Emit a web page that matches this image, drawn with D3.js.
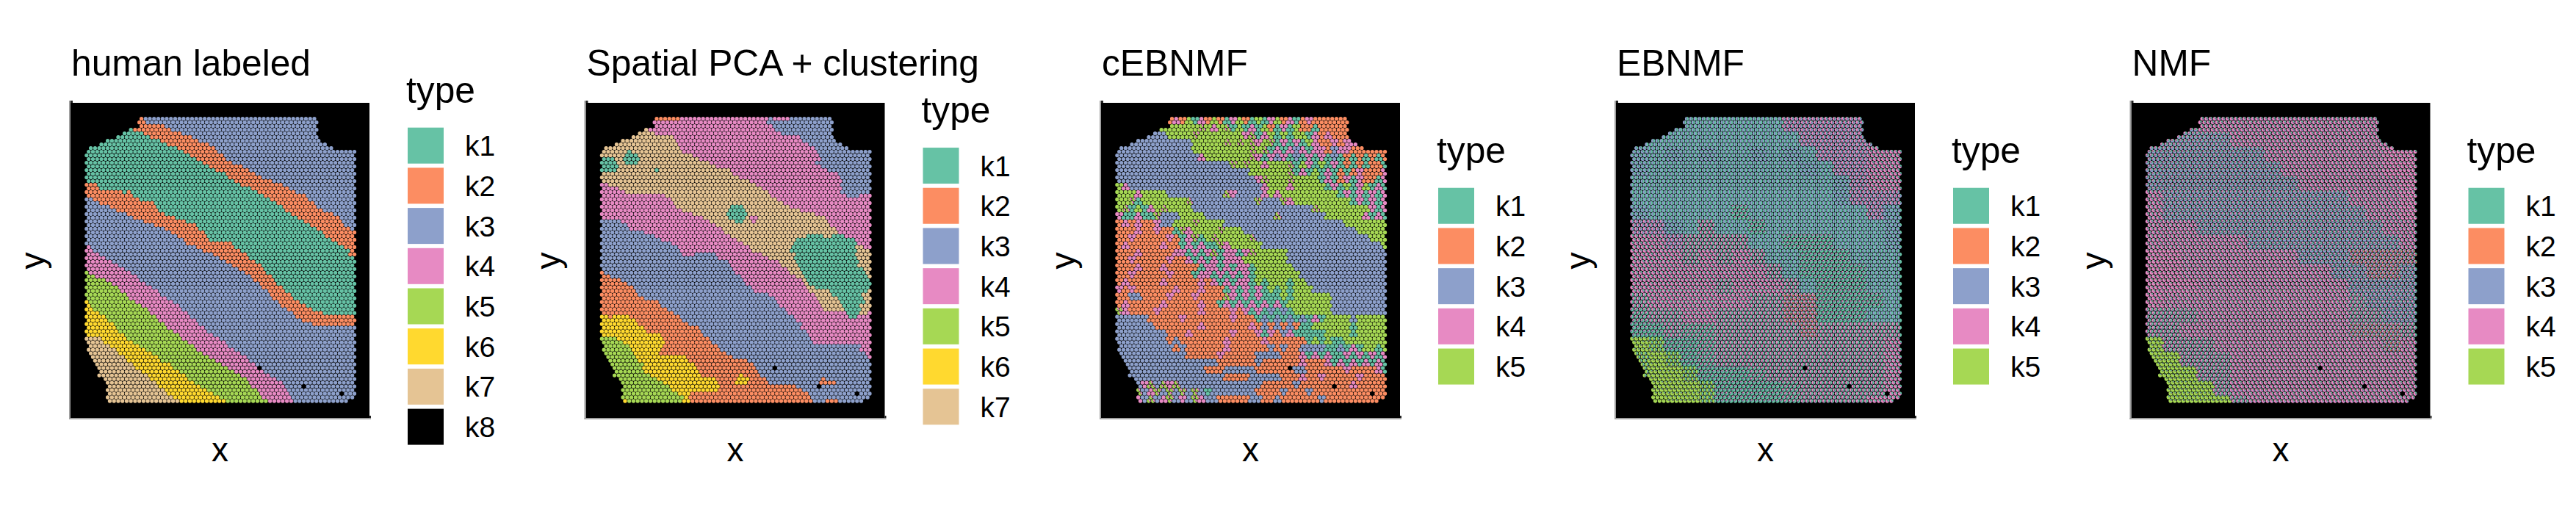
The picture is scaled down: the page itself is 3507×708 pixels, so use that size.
<!DOCTYPE html>
<html><head><meta charset="utf-8">
<script src="https://cdn.jsdelivr.net/npm/d3@7/dist/d3.min.js"></script>
<style>html,body{margin:0;padding:0;background:#fff}svg{display:block}text{font-family:"Liberation Sans",Arial,sans-serif;fill:#000}</style>
</head><body><svg id="chart" width="3507" height="708"></svg>
<script>
const typeNames = ["k1","k2","k3","k4","k5","k6","k7","k8"];
const typeColors = ["#66C2A5","#FC8D62","#8DA0CB","#E78AC3","#A6D854","#FFD92F","#E5C494","#000000"];
const panelTitles = ["human labeled","Spatial PCA + clustering","cEBNMF","EBNMF","NMF"];
const legendSizes = [8,7,5,5,5];

// tissue outline: first and last half-column of each of the 78 spot rows
const rowStart = [26,25,26,21,18,15,10,7,2,1,0,1,0,1,0,1,0,1,0,1,0,1,0,1,0,1,0,1,0,1,0,1,0,1,0,1,0,1,0,1,0,1,0,1,0,1,0,1,0,1,0,1,0,1,0,1,0,1,0,1,0,1,2,1,2,3,4,5,6,7,6,9,10,11,10,11,10,11];
const rowEnd = [108,109,108,109,108,109,110,113,116,127,126,127,126,127,126,127,126,127,126,127,126,127,126,127,126,127,126,127,126,127,126,127,126,127,126,127,126,127,126,127,126,127,126,127,126,127,126,127,126,127,126,127,126,127,126,127,126,127,126,127,126,127,126,127,126,127,126,127,126,127,126,127,126,127,126,127,126,123];
// spots with no reading (k8)
const holeSpots = ["68:82","73:103","75:121"];

// per-row runs, "type:last half-column"
const humanRuns = ["2:26 3:127","2:27 3:127","2:36 3:127","1:21 2:39 3:127","1:26 2:44 3:127","1:29 2:49 3:127","1:34 2:52 3:127","1:37 2:57 3:127","1:42 2:60 3:127","1:46 2:62 3:127","1:49 2:64 3:127","1:52 2:66 3:127","1:55 2:69 3:127","1:58 2:73 3:127","1:61 2:76 3:127","1:65 2:79 3:127","1:67 2:83 3:127","1:70 2:87 3:127","2:4 1:73 2:92 3:127","2:5 1:77 2:96 3:127","2:16 1:18 2:20 1:80 2:99 3:127","2:21 1:84 2:104 3:127","3:2 2:24 1:87 2:105 3:127","3:5 2:31 1:89 2:107 3:127","3:10 2:32 1:92 2:109 3:127","3:14 2:33 1:94 2:112 3:127","3:18 2:37 1:96 2:116 3:127","3:22 2:41 1:99 2:119 3:127","3:26 2:47 1:102 2:120 3:127","3:32 2:51 1:106 2:122 3:127","3:37 2:53 1:109 2:125 3:127","3:40 2:55 1:112 2:127","3:43 2:57 1:113 2:127","3:45 2:58 1:116 2:127","3:47 2:68 1:119 2:127","4:1 3:51 2:70 1:122 2:127","4:2 3:54 2:73 1:125 2:127","4:5 3:60 2:75 1:124 2:127","4:8 3:63 2:77 1:127","4:11 3:66 2:80 1:127","4:14 3:68 2:83 1:127","4:17 3:72 2:84 1:127","5:0 4:20 3:75 2:85 1:127","5:3 4:23 3:77 2:87 1:127","5:8 4:25 3:79 2:88 1:127","5:11 4:27 3:81 2:90 1:127","5:14 4:30 3:83 2:92 1:127","5:16 4:33 3:85 2:94 1:127","5:18 4:35 3:87 2:96 1:127","5:20 4:38 3:88 2:97 1:127","6:0 5:22 4:40 3:90 2:100 1:127","6:1 5:25 4:43 3:92 2:103 1:127","6:3 5:28 4:45 3:95 2:106 1:127","6:5 5:30 4:47 3:98 2:112 1:127","6:8 5:32 4:49 3:99 2:127","6:10 5:34 4:51 3:101 2:127","6:12 5:36 4:53 3:106 2:127","6:14 5:38 4:55 3:127","6:15 5:41 4:57 3:127","7:0 6:17 5:43 4:60 3:127","7:6 6:18 5:45 4:62 3:127","7:8 6:21 5:47 4:65 3:127","7:11 6:24 5:50 4:67 3:127","7:13 6:27 5:52 4:70 3:127","7:15 6:30 5:55 4:72 3:127","7:17 6:33 5:57 4:75 3:127","7:19 6:35 5:60 4:76 3:127","7:21 6:39 5:63 4:79 3:127","7:23 6:41 5:66 4:81 3:127","7:26 6:43 5:69 4:84 3:127","7:29 6:46 5:72 4:87 3:127","7:30 6:48 5:75 4:90 3:127","7:32 6:51 5:76 4:92 3:127","7:34 6:54 5:78 4:93 3:127","7:36 6:56 5:80 4:94 3:127","7:38 6:59 5:81 4:95 3:127","7:41 6:62 5:83 4:96 3:127","7:43 6:65 5:85 4:97 3:127"];

const spatialRuns = ["2:36 4:78 3:80 4:89 3:127","4:78 3:127","4:80 3:127","7:21 4:82 3:127","7:24 4:85 3:127","7:33 4:94 3:127","7:35 4:94 3:127","7:36 4:97 3:127","7:37 4:101 3:127","7:11 1:13 7:38 4:102 3:127","7:10 1:16 7:42 4:102 3:127","1:5 7:9 1:17 7:46 4:103 3:127","1:6 7:10 1:16 7:50 4:101 3:127","1:7 7:54 4:103 3:127","1:6 7:24 1:26 7:60 4:106 3:127","7:62 4:112 3:127","7:64 4:113 3:127","7:70 4:113 3:127","4:2 7:72 4:113 3:127","4:7 7:75 4:113 3:127","4:10 7:78 4:113 3:127","4:30 7:80 4:115 3:122 4:127","4:32 7:83 4:127","4:33 7:85 4:127","4:35 7:60 1:66 7:88 4:127","4:37 7:59 1:67 7:94 4:127","4:43 7:59 1:69 7:100 4:127","4:47 7:60 1:67 7:69 4:74 7:105 4:127","3:8 4:50 7:63 1:66 7:71 4:73 7:106 4:127","3:11 4:53 7:108 4:127","3:13 4:56 7:110 4:127","3:20 4:58 7:112 4:127","3:25 4:60 7:96 1:104 7:108 1:114 4:127","3:28 4:64 7:91 1:119 4:127","3:32 4:67 7:90 1:120 4:127","3:36 4:69 7:89 1:120 7:123 4:127","3:37 4:71 7:88 1:120 7:126 4:127","3:38 4:44 3:53 4:75 7:91 1:120 7:127","3:55 4:78 7:91 1:120 7:127","3:59 4:83 7:92 1:121 7:127","3:60 4:85 7:92 1:121 7:127","3:62 4:87 7:93 1:123 7:127","2:0 3:63 4:89 7:95 1:124 7:127","2:3 3:65 4:91 7:96 1:126 7:127","2:8 3:67 4:94 7:97 1:127","2:11 3:68 4:96 7:98 1:127","2:14 3:70 4:97 7:101 1:126 7:127","2:15 3:71 4:98 7:107 1:125 7:127","2:16 3:79 4:100 7:109 1:123 7:127","2:19 3:81 4:101 7:111 1:124 7:127","2:26 3:82 4:102 7:113 1:124 7:127","2:28 3:83 4:103 7:114 1:122 7:127","2:31 3:86 4:105 7:114 1:122 7:127","2:33 3:88 4:115 1:121 7:125 4:127","6:2 2:5 6:12 2:36 3:90 4:117 1:120 4:127","6:15 2:38 3:92 4:127","6:17 2:40 3:94 4:127","6:20 2:45 3:94 4:127","6:20 2:46 3:96 4:127","6:28 2:47 3:97 4:127","5:7 6:29 2:50 3:99 4:127","5:9 6:29 2:52 3:100 4:127","5:12 6:28 2:54 3:122 4:127","5:13 6:27 2:56 3:122 4:127","5:15 6:27 2:58 3:124 4:127","5:16 6:39 2:62 3:125 4:127","5:17 6:41 2:68 3:127","5:19 6:43 2:71 3:127","5:19 6:44 2:72 3:127","5:20 6:45 2:73 3:127","5:22 6:46 2:64 6:66 2:74 3:127","5:25 6:54 2:63 6:69 2:77 3:103 2:105 3:127","5:28 6:55 2:63 6:68 2:78 3:103 2:110 3:127","5:31 6:55 2:91 3:127","5:33 6:55 2:94 3:127","5:36 6:41 2:97 3:127","5:38 6:41 2:98 3:127","6:11 5:38 6:41 2:99 3:105 2:111 3:127"];

// composition codes used by the three factor panels (k1..k5 shares)
const mixCodes = ["1","2","3","4","5","a","g","h","t","p","q","r","u","v","w","x","o","m","n","s","k","z"];
const mixShares = [[1,0,0,0,0],[0,1,0,0,0],[0,0,1,0,0],[0,0,0,1,0],[0,0,0,0,1],[0,0,0,35,65],[50,0,50,0,0],[35,0,65,0,0],[70,0,15,15,0],[25,0,10,65,0],[15,0,40,45,0],[45,0,10,45,0],[60,0,10,30,0],[15,0,0,5,80],[40,0,5,5,50],[5,0,0,0,95],[30,18,10,42,0],[30,0,45,25,0],[20,3,17,60,0],[18,3,8,71,0],[40,3,17,40,0],[28,15,22,35,0]];

// cEBNMF: one line per 2 rows, one code per 3 half-columns
const cebnmfGrid = [
"........24251425214521514524124222222......",
".......555555a545a15141521415221222222.....",
".....33355 55a55 55555 4a145 15155 14242 22... ...",
"..333 33333 33555 55a5a 5a45a 14141 54224 244.. ...",
"33333 33333 33555 55555 5a5a1 41434 14423 44222 222",
"33333 33333 33345 55555 5a414 34131 41413 12121 212",
"33333 33333 33333 333a5 a5545 55a15 41514 12121 221",
"33333 33333 33333 33333 35555 55a14 15141 21242 224",
"33333 33333 33333 33333 334a5 55a55 55141 24142 214",
"54333 33333 33333 33333 33345 55455 55514 15145 141",
"55545 55533 33333 33a43 33345 45555 55555 14141 414",
"55a15 55555 5a333 33333 33a33 3a455 55555 55141 414",
"5a151 45a55 55333 33333 33333 33333 3a555 55555 414",
"41141 1a333 55553 33333 33333 a3333 33355 55554 141",
"24242 24335 55a55 55333 33333 33333 33333 35555 555",
"22242 24221 a4555 5a555 33333 33333 33333 33355 555",
"22422 22242 14a15 a5555 5a333 33333 33333 33333 555",
"24222 22422 14141 1a455 55533 33333 33333 33333 335",
"22242 22224 41414 a1441 4a555 55333 33333 33333 333",
"22422 22242 24141 41444 55555 55333 33333 33333 333",
"22242 22422 22214 41414 41555 55533 33333 33333 333",
"22422 22242 22144 14141 41555 55553 33333 33333 333",
"24222 22422 22242 41414 41515 55155 33333 33333 333",
"42422 22224 22242 22141 41415 15155 53333 33333 333",
"22332 22242 22422 22a41 41411 15155 55553 33333 333",
"24222 22422 22242 21414 14141 41555 55553 33333 333",
"a4222 24222 22242 22242 41413 13155 55553 33333 333",
"33333 22222 42222 22242 22131 31313 14155 55355 555",
"33333 32222 22242 22222 24232 32321 15555 55155 555",
"33333 33322 24222 22242 22414 23411 11155 55155 555",
"33333 33323 22222 22422 22242 22222 15151 15555 555",
"33333 33332 32222 22422 22223 23223 33311 31415 515",
"33333 33333 32222 24222 22333 32224 14141 14141 414",
"33333 33333 33333 32222 22322 22224 22241 41414 141",
"33333 33333 33332 22333 33222 22233 22222 24222 241",
"33333 33333 33333 33222 23333 32224 22422 22242 222",
"...34 a3a4a 33333 33333 33322 22232 22222 22422 222",
"...a3 4a3a3 a3a31 33333 33222 23222 32222 22222 222",
"...43 a34a3 43a43 32222 23322 32222 22322 22222 222"];

// EBNMF and NMF: one line per 4 rows, one code per 8 half-columns
const ebnmfGrid = ["gggggggggqqqqqqq","ggggggggggqqqqqq","hghghgghghgqqqpp","hggggggggghgqqpp","gggggggggggghqpp","gggggggggggghqqq","hgggggtgggggggqh","qqhgrggtgggggggh","ppqrrrrggtttgggh","ppprprprggtttggg","pppppppprgttttgg","ppppprppprgtttgg","rpppppprroottttg","urrpprrrrootttgg","ttruurrrrrorrrrr","vwtturrrrrrrrrrp","wvwturrrrrrrrrrp","wvvwttturrrrrrrp","xvvvwtttturrrrrp","xxvvwtttturrrrpp"];
const nmfGrid = ["mmmnnnnnnnnnnnnn","mmmmmnnnnnnnnnnn","mmmmmmmnnnnnnnss","mmmmmmmmnnnnnnss","mmmmmmmmmnnnnnns","nmmmmmmmmmmmnnns","nmmmmmmmmmmmmnns","nnnmmmmmmmmmmmnn","nnnnnnmmmmmmmmmn","ssnnnnnnnmmmzzzz","ssnnnnnnnnnmmzzm","sssnnnnnnnnnmmmm","snnnnnnnnnnnkmmm","kkknnnnnnnnnkkmm","kknnnnnnnnnnzzzk","vkkknnnnnnnnnnzn","vvkkknnnnnnnnnnn","vvvkknnnnnnnnnnn","vvvvknnnnnnnnnnn","vvvvvknnnnnnnnnn"];

// ---------- layout ----------
const panelLefts = [96, 797.5, 1499, 2200, 2901.5];
const panelW = 407, panelTop = 140, panelBottom = 569;
const spotR = 2.65;
const svg = d3.select("#chart");

const runTable = rows => rows.map(s => s.split(" ").map(p => p.split(":").map(Number)));
const humanT = runTable(humanRuns), spatialT = runTable(spatialRuns);
const runType = (t,r,c) => { for (const [k,e] of t[r]) if (c <= e) return k; return t[r][t[r].length-1][0]; };
const cleanGrid = g => g.map(s => s.replace(/ /g,""));
const cebG = cleanGrid(cebnmfGrid);
const mixOf = code => mixShares[Math.max(0,mixCodes.indexOf(code))];
const cellCode = (g,li,j) => { const l = g[Math.min(li,g.length-1)]; let ch = l.charAt(Math.min(j,l.length-1)); if (ch==="." ) ch = l.replace(/\./g,"").charAt(0)||"3"; return ch; };

const spotValue = [
  (r,c) => [runType(humanT,r,c)],
  (r,c) => [runType(spatialT,r,c)],
  (r,c) => mixOf(cellCode(cebG, Math.floor(r/2), Math.floor(c/3))),
  (r,c) => mixOf(cellCode(ebnmfGrid, Math.floor(r/4), Math.floor(c/8))),
  (r,c) => mixOf(cellCode(nmfGrid, Math.floor(r/4), Math.floor(c/8)))
];

const yScale = d3.scaleLinear().domain([0,77]).range([161.7,546]);
const pie = d3.pie().sort(null).startAngle(0).endAngle(2*Math.PI);
const arc = d3.arc().innerRadius(0).outerRadius(spotR);

panelTitles.forEach((title,pi) => {
  const L = panelLefts[pi];
  const xScale = d3.scaleLinear().domain([0,127]).range([L+21.9, L+21.9+364.6]);
  const g = svg.append("g");
  g.append("rect").attr("x",L).attr("y",panelTop).attr("width",panelW).attr("height",panelBottom-panelTop).attr("fill","#000");
  // axis lines
  g.append("rect").attr("x",L-2).attr("y",137).attr("width",2).attr("height",434).attr("fill","#a0a0a0");
  g.append("rect").attr("x",L-2).attr("y",569).attr("width",panelW+4).attr("height",2).attr("fill","#a0a0a0");
  g.append("rect").attr("x",L).attr("y",137).attr("width",3).attr("height",3).attr("fill","#222");
  g.append("rect").attr("x",L+panelW).attr("y",566).attr("width",2).attr("height",3).attr("fill","#222");

  const spots = [];
  for (let r=0;r<78;r++) for (let c=rowStart[r];c<=rowEnd[r];c+=2) {
    if (holeSpots.includes(r+":"+c)) { spots.push({r,c,hole:true}); continue; }
    const v = spotValue[pi](r,c);
    spots.push(v.length===1 ? {r,c,solid:v[0]-1} : {r,c,shares:v});
  }
  const sg = g.append("g").attr("class","spots");
  spots.forEach(s => {
    const x = xScale(s.c), y = yScale(s.r);
    if (s.hole) { sg.append("circle").attr("cx",x).attr("cy",y).attr("r",spotR).attr("fill",typeColors[7]); return; }
    if (s.solid !== undefined) { sg.append("circle").attr("cx",x).attr("cy",y).attr("r",spotR).attr("fill",typeColors[s.solid]); return; }
    const nz = s.shares.filter(v=>v>0).length;
    if (nz===1) { sg.append("circle").attr("cx",x).attr("cy",y).attr("r",spotR).attr("fill",typeColors[s.shares.findIndex(v=>v>0)]); return; }
    const pg = sg.append("g").attr("transform",`translate(${x},${y})`);
    pie(s.shares).forEach((a,i)=>{ if (a.value>0) pg.append("path").attr("d",arc(a)).attr("fill",typeColors[i]); });
  });

  // texts
  svg.append("text").attr("x",L+1).attr("y",103).attr("font-size",49.7).text(title);
  svg.append("text").attr("x",L+panelW/2).attr("y",628).attr("text-anchor","middle").attr("font-size",46).text("x");
  svg.append("text").attr("transform",`translate(${L-36},${355}) rotate(-90)`).attr("text-anchor","middle").attr("font-size",46).text("y");

  // legend
  const n = legendSizes[pi], pitch = 54.7, swatch = 49;
  const top = 392.5 - n*pitch/2;
  const lx = L+459;
  svg.append("text").attr("x",lx-2).attr("y",top-34).attr("font-size",49.7).text("type");
  typeNames.slice(0,n).forEach((nm,i)=>{
    svg.append("rect").attr("x",lx).attr("y",top+i*pitch).attr("width",swatch).attr("height",swatch).attr("fill",typeColors[i]);
    svg.append("text").attr("x",lx+78).attr("y",top+i*pitch+38.5).attr("font-size",39).text(nm);
  });
});
</script></body></html>
